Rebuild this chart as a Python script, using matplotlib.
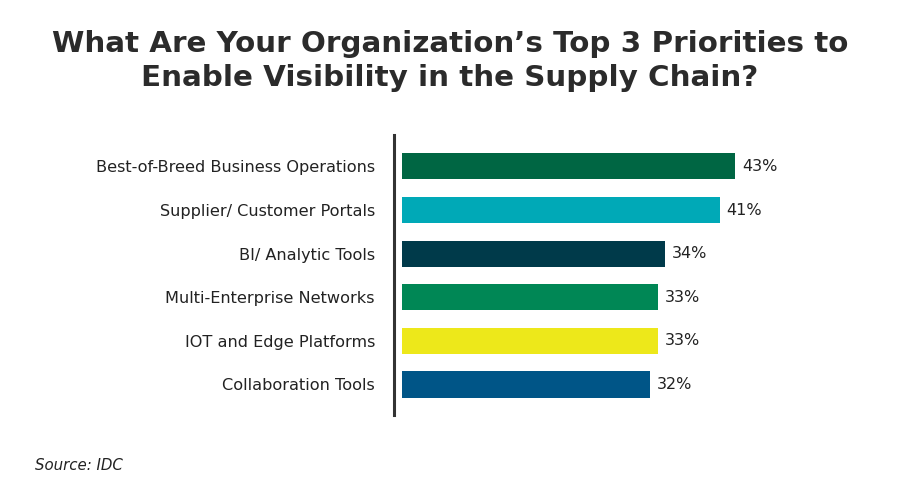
import matplotlib.pyplot as plt
from matplotlib.lines import Line2D

plt.rcParams['font.family'] = ['DejaVu Sans']

categories = ['Best-of-Breed Business Operations', 'Supplier/ Customer Portals',
              'BI/ Analytic Tools', 'Multi-Enterprise Networks',
              'IOT and Edge Platforms', 'Collaboration Tools']
values = [43, 41, 34, 33, 33, 32]
colors = ['#006643', '#00a9b7', '#003a4a', '#008755', '#ede81a', '#005587']

W, H = 900, 500
fig = plt.figure(figsize=(9, 5), dpi=100)

# axes: data 0 at x=402px, 43% at ~735px
left = 402 / W
scale = (735 - 402) / 43.0
xmax = 50
ax = fig.add_axes([left, 1 - 415 / H, xmax * scale / W, (415 - 135) / H])

n = len(values)
ypos = list(range(n))
ax.barh(ypos, values, height=0.6, color=colors)
ax.set_xlim(0, xmax)
ax.set_ylim(n - 1 + 0.70, -0.72)
ax.set_yticks(ypos)
ax.set_yticklabels(categories, fontsize=11.6, color='#222222')
ax.tick_params(axis='y', length=0, pad=19.5)
ax.set_xticks([])
for s in ax.spines.values():
    s.set_visible(False)

for y, v in zip(ypos, values):
    ax.text(v + 0.9, y, f'{v}%', va='center', ha='left', fontsize=11.5, color='#222222')

# vertical rule
fig.add_artist(Line2D([393.5 / W, 393.5 / W], [1 - 135 / H, 1 - 415 / H],
                      color='#333333', linewidth=2.2))

fig.text(0.5, 1 - 61 / H, 'What Are Your Organization\u2019s Top 3 Priorities to\nEnable Visibility in the Supply Chain?',
         ha='center', va='center', fontsize=21.2, fontweight='bold', color='#2b2b2b',
         linespacing=1.28)

fig.text(35 / W, 1 - 466 / H, 'Source: IDC', ha='left', va='center', fontsize=10.8,
         style='italic', color='#222222')

fig.savefig('out.png', dpi=100)
